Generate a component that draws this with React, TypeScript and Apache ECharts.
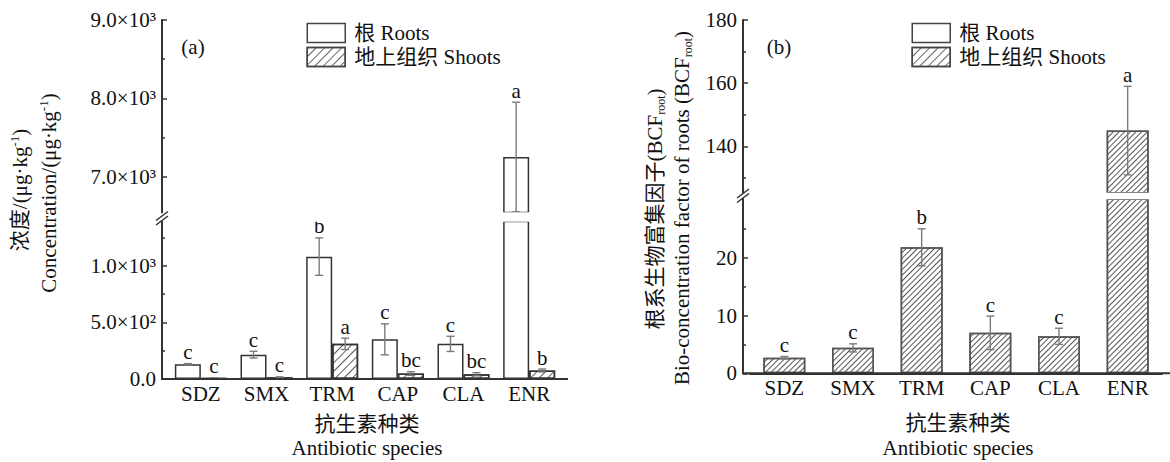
import React, { useEffect, useRef } from 'react';
import * as echarts from 'echarts';

// ---------------- data ----------------
const categories = ['SDZ', 'SMX', 'TRM', 'CAP', 'CLA', 'ENR'];

// (a) concentration, µg/kg
const rootConc = [130, 215, 1080, 350, 310, 7250];
const rootConcErr = [6, 30, 165, 137, 67, 700];
const rootConcLetters = ['c', 'c', 'b', 'c', 'c', 'a'];
const shootConc = [8, 15, 310, 48, 42, 75];
const shootConcErr = [3, 4, 50, 16, 14, 13];
const shootConcLetters = ['c', 'c', 'a', 'bc', 'bc', 'b'];

// (b) BCF root
const bcfRoot = [2.7, 4.4, 21.8, 7.0, 6.4, 145];
const bcfRootErr = [0.2, 0.7, 3.2, 2.9, 1.4, 14];
const bcfRootLetters = ['c', 'c', 'b', 'c', 'c', 'a'];

// axis ranges (broken axes: upper / lower segment)
const concUpperRange = [6541, 9000];
const concLowerRange = [0, 1390];
const bcfUpperRange = [125.25, 180];
const bcfLowerRange = [0, 30.16];

// tick values and labels
const concUpperTicks = [7000, 8000, 9000];
const concUpperTickLabels = ['7.0×10³', '8.0×10³', '9.0×10³'];
const concUpperMinor = [7500, 8500];
const concLowerTicks = [0, 500, 1000];
const concLowerTickLabels = ['0.0', '5.0×10²', '1.0×10³'];
const concLowerMinor = [250, 750, 1250];
const bcfUpperTicks = [140, 160, 180];
const bcfUpperTickLabels = ['140', '160', '180'];
const bcfUpperMinor = [130, 150, 170];
const bcfLowerTicks = [0, 10, 20];
const bcfLowerTickLabels = ['0', '10', '20'];
const bcfLowerMinor = [5, 15, 25];

const ROOTS = '根 Roots';
const SHOOTS = '地上组织 Shoots';

// ---------------- styles ----------------
const FONT = "'Liberation Serif', 'Times New Roman', 'Noto Sans CJK SC', serif";
const FS = 21;
const AXIS = '#333';
const ERR = '#7a7a7a';

const hatchA = {
  symbol: 'rect',
  symbolSize: 1,
  dashArrayX: [1, 0],
  dashArrayY: [1, 4.5],
  rotation: -Math.PI / 4,
  color: '#5a5a5a',
};
const hatchLegend = {
  symbol: 'rect',
  symbolSize: 1,
  dashArrayX: [1, 0],
  dashArrayY: [1, 5],
  rotation: -Math.PI / 4,
  color: '#666',
};
const hatchB = {
  symbol: 'rect',
  symbolSize: 1,
  dashArrayX: [1, 0],
  dashArrayY: [1, 2.2],
  rotation: -Math.PI / 4,
  color: '#555',
};

type ErrItem = { cat: number; value: number; err: number; offset: number; letter: string };

function errSeries(items: ErrItem[], axisIdx: number) {
  return {
    type: 'custom',
    xAxisIndex: axisIdx,
    yAxisIndex: axisIdx,
    z: 5,
    clip: false,
    silent: true,
    data: items.map((it) => [it.cat, it.value - it.err, it.value + it.err]),
    encode: { x: 0, y: [1, 2] },
    renderItem: (params: any, api: any) => {
      const it = items[params.dataIndex];
      const top = api.coord([it.cat, it.value + it.err]);
      const bot = api.coord([it.cat, it.value - it.err]);
      const x = top[0] + it.offset;
      const ls = { stroke: ERR, lineWidth: 1.4 };
      return {
        type: 'group',
        children: [
          { type: 'line', shape: { x1: x, y1: top[1], x2: x, y2: bot[1] }, style: ls },
          { type: 'line', shape: { x1: x - 4, y1: top[1], x2: x + 4, y2: top[1] }, style: ls },
          { type: 'line', shape: { x1: x - 4, y1: bot[1], x2: x + 4, y2: bot[1] }, style: ls },
          {
            type: 'text',
            x,
            y: top[1] - 1,
            style: {
              text: it.letter,
              align: 'center',
              verticalAlign: 'bottom',
              fontSize: FS,
              fontFamily: FONT,
              fill: '#111',
            },
          },
        ],
      };
    },
  };
}

function mainY(grid: number, range: number[], ticks: number[], labels: string[], offset: number) {
  return {
    type: 'value',
    gridIndex: grid,
    min: range[0],
    max: range[1],
    position: 'left',
    offset,
    axisLine: { show: true, lineStyle: { color: AXIS, width: 2 } },
    axisTick: { show: true, inside: true, length: 5, lineStyle: { color: AXIS, width: 1.5 }, customValues: ticks },
    axisLabel: {
      show: true,
      margin: 6,
      fontSize: FS,
      fontFamily: FONT,
      color: '#111',
      customValues: ticks,
      formatter: (v: number) => {
        const i = ticks.indexOf(v);
        return i >= 0 ? labels[i] : '';
      },
    },
    splitLine: { show: false },
  };
}

function minorY(grid: number, range: number[], minor: number[], offset: number) {
  return {
    type: 'value',
    gridIndex: grid,
    min: range[0],
    max: range[1],
    position: 'left',
    offset,
    axisLine: { show: false },
    axisTick: { show: true, inside: true, length: 3, lineStyle: { color: AXIS, width: 1.5 }, customValues: minor },
    axisLabel: { show: false },
    splitLine: { show: false },
  };
}

function xCat(grid: number, show: boolean) {
  return {
    type: 'category',
    gridIndex: grid,
    data: categories,
    show,
    axisTick: { show: false },
    axisLine: { show: true, lineStyle: { color: AXIS, width: 2 } },
    axisLabel: { fontSize: FS, fontFamily: FONT, color: '#111', margin: 4 },
  };
}

export default function App() {
  const ref = useRef<HTMLDivElement>(null);

  useEffect(() => {
    if (!ref.current) return;
    const chart = echarts.init(ref.current, null, { renderer: 'svg' });

    const dashes = categories.map(() => '-');
    const lastOnly = (arr: number[]) => arr.map((v, i) => (i === arr.length - 1 ? v : '-'));

    // error bar items
    const aLowerItems: ErrItem[] = [];
    const aUpperItems: ErrItem[] = [];
    categories.forEach((_, i) => {
      const r = { cat: i, value: rootConc[i], err: rootConcErr[i], offset: -13, letter: rootConcLetters[i] };
      if (rootConc[i] + rootConcErr[i] <= concLowerRange[1]) aLowerItems.push(r);
      else aUpperItems.push(r);
      const s = { cat: i, value: shootConc[i], err: shootConcErr[i], offset: 13, letter: shootConcLetters[i] };
      if (shootConc[i] + shootConcErr[i] <= concLowerRange[1]) aLowerItems.push(s);
      else aUpperItems.push(s);
    });
    const bLowerItems: ErrItem[] = [];
    const bUpperItems: ErrItem[] = [];
    categories.forEach((_, i) => {
      const it = { cat: i, value: bcfRoot[i], err: bcfRootErr[i], offset: 0, letter: bcfRootLetters[i] };
      if (bcfRoot[i] + bcfRootErr[i] <= bcfLowerRange[1]) bLowerItems.push(it);
      else bUpperItems.push(it);
    });

    const rootStyleA = { color: '#fff', borderColor: '#333', borderWidth: 1.5 };
    const shootStyleA = { color: '#fff', borderColor: '#333', borderWidth: 1.5, decal: hatchA };
    const shootStyleB = { color: '#fff', borderColor: '#555', borderWidth: 1.5, decal: hatchB };

    const legendCommon = {
      orient: 'vertical',
      top: 22.5,
      padding: 0,
      itemWidth: 38,
      itemHeight: 19,
      itemGap: 3,
      icon: 'rect',
      selectedMode: false,
      textStyle: { fontSize: FS, fontFamily: FONT, color: '#111', padding: [0, 0, 0, 4] },
      data: [
        { name: ROOTS, itemStyle: { color: '#fff', borderColor: '#444', borderWidth: 1.5 } },
        { name: SHOOTS, itemStyle: { color: '#fff', borderColor: '#444', borderWidth: 1.5, decal: hatchLegend } },
      ],
    };

    const textStyle = (t: string, x: number, y: number) => ({
      type: 'text',
      x,
      y,
      z: 110,
      style: {
        text: t,
        align: 'center',
        verticalAlign: 'middle',
        fontSize: FS,
        fontFamily: FONT,
        fill: '#111',
      },
    });

    const supRich = { sup: { fontSize: 13, fontFamily: FONT, fill: '#111', verticalAlign: 'top', lineHeight: 13 } };
    const subRich = { sub: { fontSize: 12, fontFamily: FONT, fill: '#111', verticalAlign: 'bottom', lineHeight: 12 } };
    const rotTitle = (t: string, x: number, y: number, rich: any) => ({
      type: 'text', x, y, rotation: Math.PI / 2, z: 110,
      style: {
        text: t,
        align: 'center', verticalAlign: 'middle', fontSize: FS, fontFamily: FONT, fill: '#111', lineHeight: 24,
        rich,
      },
    });

    const option: any = {
      animation: false,
      backgroundColor: '#fff',
      grid: [
        { left: 168, width: 394, top: 20, height: 192.5 },
        { left: 168, width: 394, top: 221.5, height: 157.5 },
        { left: 750, width: 412, top: 20, height: 173 },
        { left: 750, width: 412, top: 199, height: 174.3 },
      ],
      legend: [
        { ...legendCommon, left: 306.5 },
        { ...legendCommon, left: 911.5 },
      ],
      xAxis: [xCat(0, false), xCat(1, true), xCat(2, false), xCat(3, true)],
      yAxis: [
        mainY(0, concUpperRange, concUpperTicks, concUpperTickLabels, 6),
        mainY(1, concLowerRange, concLowerTicks, concLowerTickLabels, 6),
        mainY(2, bcfUpperRange, bcfUpperTicks, bcfUpperTickLabels, 7),
        mainY(3, bcfLowerRange, bcfLowerTicks, bcfLowerTickLabels, 7),
        minorY(0, concUpperRange, concUpperMinor, 6),
        minorY(1, concLowerRange, concLowerMinor, 6),
        minorY(2, bcfUpperRange, bcfUpperMinor, 7),
        minorY(3, bcfLowerRange, bcfLowerMinor, 7),
      ],
      series: [
        // (a) lower
        { type: 'bar', name: ROOTS, xAxisIndex: 1, yAxisIndex: 1, data: rootConc, barWidth: 26, barGap: '0%', itemStyle: rootStyleA, clip: true },
        { type: 'bar', name: SHOOTS, xAxisIndex: 1, yAxisIndex: 1, data: shootConc, barWidth: 26, barGap: '0%', itemStyle: shootStyleA, clip: true },
        errSeries(aLowerItems, 1),
        // (a) upper
        { type: 'bar', name: ROOTS, xAxisIndex: 0, yAxisIndex: 0, data: lastOnly(rootConc), barWidth: 26, barGap: '0%', itemStyle: rootStyleA, clip: true },
        { type: 'bar', name: SHOOTS, xAxisIndex: 0, yAxisIndex: 0, data: dashes, barWidth: 26, barGap: '0%', itemStyle: shootStyleA, clip: true },
        errSeries(aUpperItems, 0),
        // (b) lower
        { type: 'bar', name: ROOTS, xAxisIndex: 3, yAxisIndex: 3, data: dashes, barWidth: 42, barGap: '-100%', itemStyle: rootStyleA, clip: true },
        { type: 'bar', name: SHOOTS, xAxisIndex: 3, yAxisIndex: 3, data: bcfRoot, barWidth: 42, barGap: '-100%', itemStyle: shootStyleB, clip: true },
        errSeries(bLowerItems, 3),
        // (b) upper
        { type: 'bar', name: ROOTS, xAxisIndex: 2, yAxisIndex: 2, data: dashes, barWidth: 42, barGap: '-100%', itemStyle: rootStyleA, clip: true },
        { type: 'bar', name: SHOOTS, xAxisIndex: 2, yAxisIndex: 2, data: lastOnly(bcfRoot), barWidth: 42, barGap: '-100%', itemStyle: shootStyleB, clip: true },
        errSeries(bUpperItems, 2),
      ],
      graphic: [
        // axis breaks: white gap bands
        { type: 'rect', z: 100, shape: { x: 163.5, y: 212.3, width: 405, height: 9.4 }, style: { fill: '#fff' } },
        { type: 'polygon', z: 101, shape: { points: [[156, 220.5], [168, 211.5], [168, 216], [156, 225]] }, style: { fill: '#fff' } },
        { type: 'line', z: 102, shape: { x1: 156, y1: 220.5, x2: 168, y2: 211.5 }, style: { stroke: AXIS, lineWidth: 1.5 } },
        { type: 'line', z: 102, shape: { x1: 156, y1: 225, x2: 168, y2: 216 }, style: { stroke: AXIS, lineWidth: 1.5 } },
        { type: 'rect', z: 100, shape: { x: 744.5, y: 192.8, width: 430, height: 6.4 }, style: { fill: '#fff' } },
        { type: 'polygon', z: 101, shape: { points: [[737, 198], [749, 189], [749, 193.5], [737, 202.5]] }, style: { fill: '#fff' } },
        { type: 'line', z: 102, shape: { x1: 737, y1: 198, x2: 749, y2: 189 }, style: { stroke: AXIS, lineWidth: 1.5 } },
        { type: 'line', z: 102, shape: { x1: 737, y1: 202.5, x2: 749, y2: 193.5 }, style: { stroke: AXIS, lineWidth: 1.5 } },
        // x-axis baseline extensions
        { type: 'line', z: 50, shape: { x1: 161, y1: 379, x2: 568, y2: 379 }, style: { stroke: AXIS, lineWidth: 2 } },
        { type: 'line', z: 50, shape: { x1: 742, y1: 373.3, x2: 1170, y2: 373.3 }, style: { stroke: AXIS, lineWidth: 2 } },
        // panel tags
        textStyle('(a)', 193, 46.5),
        textStyle('(b)', 779, 46.5),
        // x-axis titles
        textStyle('抗生素种类', 367, 424),
        textStyle('Antibiotic species', 367, 448),
        textStyle('抗生素种类', 958, 423),
        textStyle('Antibiotic species', 958, 448),
        // y-axis titles
        rotTitle('浓度/(μg·kg{sup|-1})', 20, 190, supRich),
        rotTitle('Concentration/(μg·kg{sup|-1})', 49, 193, supRich),
        rotTitle('根系生物富集因子(BCF{sub|root})', 655, 209, subRich),
        rotTitle('Bio-concentration factor of roots (BCF{sub|root})', 682, 208, subRich),
      ],
    };

    chart.setOption(option);
    return () => chart.dispose();
  }, []);

  return (
    <div
      ref={ref}
      style={{ position: 'fixed', left: 0, top: 0, width: 1170, height: 462, background: '#fff' }}
    />
  );
}
